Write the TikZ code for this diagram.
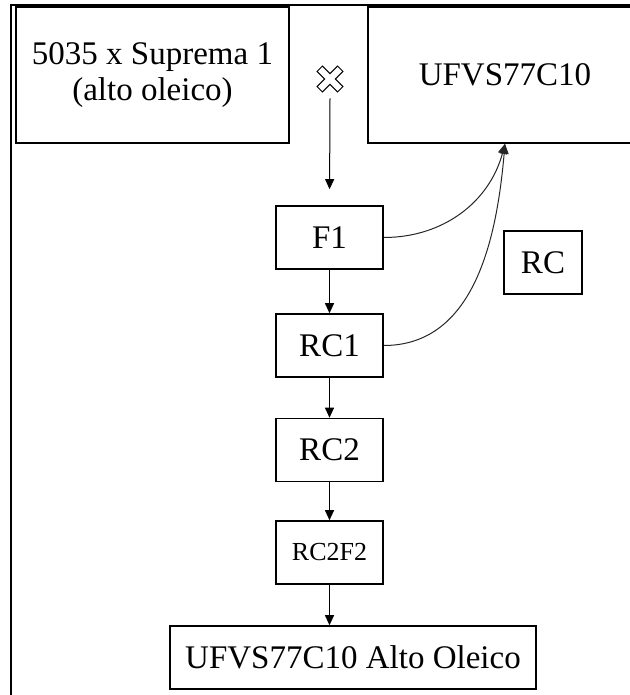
\documentclass[tikz,border=0pt]{standalone}
\usepackage{fontspec}
\setmainfont{Liberation Serif}
\usepackage{tikz}
\usetikzlibrary{arrows.meta,positioning}

\begin{document}
\begin{tikzpicture}[
  x=0.5pt, y=-0.5pt,
  box/.style={draw, line width=0.8pt, inner sep=0pt, font=\fontsize{16.5}{18}\selectfont, align=center},
  gen/.style={box, minimum width=53.5pt, minimum height=31.5pt},
  link/.style={-{Triangle[length=5pt,width=4.5pt]}, line width=0.5pt},
  back/.style={link, draw=black!85}
]
\useasboundingbox (0,0) rectangle (630,695);
\clip (0,0) rectangle (630,695);

% frame
\draw [line width=0.8pt] (11,695) -- (11,5) -- (630,5);

% parents
\node [box, minimum width=136.5pt, minimum height=68pt] (src) at (152.5,75) {5035 x Suprema 1\\(alto oleico)};
\node [box, minimum width=137pt, minimum height=68pt] (ufv) at (505,75) {UFVS77C10};
\node [minimum width=13pt, minimum height=19pt, inner sep=0pt] (cross) at (330,79) {};
\draw [line width=0.5pt, shift={(cross.center)}, rotate=45]
  (3.8,14.5) -- (3.8,3.8) -- (14.5,3.8) -- (14.5,-3.8) -- (3.8,-3.8) -- (3.8,-14.5)
  -- (-3.8,-14.5) -- (-3.8,-3.8) -- (-14.5,-3.8) -- (-14.5,3.8) -- (-3.8,3.8) -- (-3.8,14.5) -- cycle;

% generations
\node [gen] (f1) at (329.5,237.5) {F1};
\node [gen] (rc1) at (329.5,345.5) {RC1};
\node [gen] (rc2) at (329.5,450) {RC2};
\node [gen, font=\fontsize{13}{15}\selectfont] (rc2f2) at (329.5,552.5) {RC2F2};
\node [box, minimum width=183pt, minimum height=31.5pt] (final) at (353,657.5) {UFVS77C10 Alto Oleico};
\node [box, minimum width=39pt, minimum height=31.5pt] (rc) at (543,262.5) {RC};

\draw [link, shorten >=8pt] (cross.south) -- (f1.north);
\draw [link] (f1) -- (rc1);
\draw [link] (rc1) -- (rc2);
\draw [link] (rc2) -- (rc2f2);
\draw [link] (rc2f2.south) -- (rc2f2.south |- final.north);

% backcrosses
\draw [back] (f1.east) to[out=0, in=-105] (ufv.south);
\draw [back] (rc1.east) to[out=0, in=-95] (ufv.south);
\end{tikzpicture}
\end{document}
